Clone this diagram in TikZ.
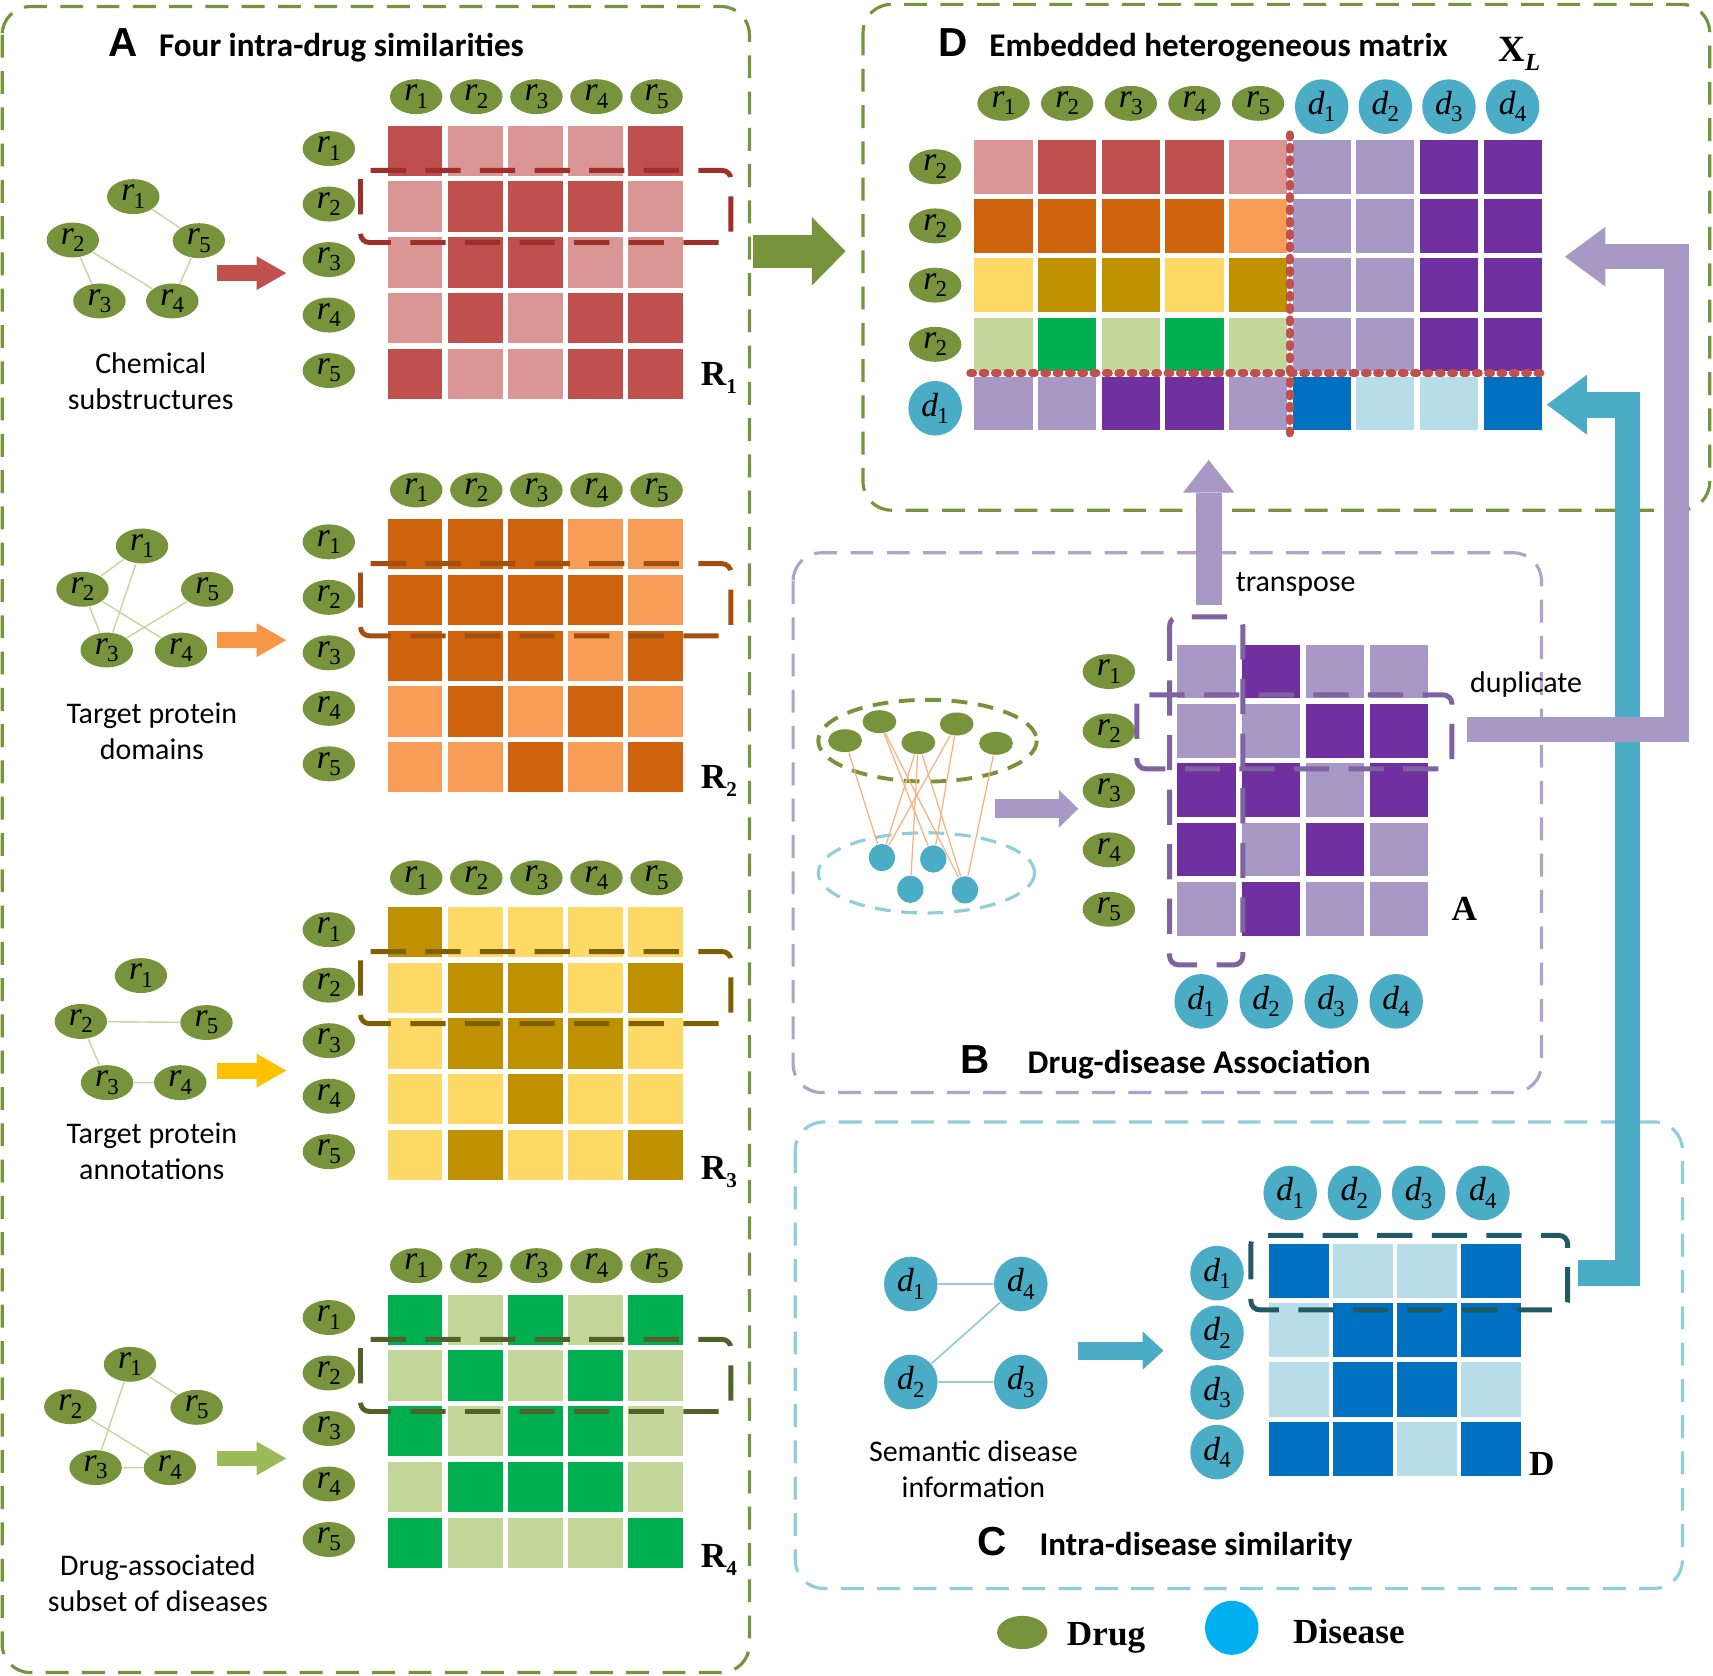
\documentclass[tikz,border=0pt]{standalone}
\usepackage{fontspec}
\setmainfont{Carlito}
\newfontfamily\tnr{Liberation Serif}
\newfontfamily\arl{Liberation Sans}
\usetikzlibrary{arrows.meta,positioning,shapes.geometric}

\definecolor{drugc}{HTML}{77933C}
\definecolor{disc}{HTML}{4BACC6}
\definecolor{legdis}{HTML}{00B0F0}
\definecolor{panelA}{HTML}{77933C}
\definecolor{panelB}{HTML}{B3A2C7}
\definecolor{panelC}{HTML}{92CDDC}
\definecolor{redD}{HTML}{C0504D}
\definecolor{redL}{HTML}{DA9694}
\definecolor{orgD}{HTML}{CE620D}
\definecolor{orgL}{HTML}{F79D58}
\definecolor{yelD}{HTML}{BF9000}
\definecolor{yelL}{HTML}{FFD966}
\definecolor{grnD}{HTML}{00B050}
\definecolor{grnL}{HTML}{C4D79B}
\definecolor{purD}{HTML}{7030A0}
\definecolor{purL}{HTML}{A898C5}
\definecolor{bluD}{HTML}{0070C0}
\definecolor{bluL}{HTML}{B7DEE8}
\definecolor{redB}{HTML}{9E2F2B}
\definecolor{orgB}{HTML}{A34F0E}
\definecolor{yelB}{HTML}{7F6000}
\definecolor{grnB}{HTML}{4F6228}
\definecolor{purB}{HTML}{7E62A1}
\definecolor{bluB}{HTML}{215967}
\definecolor{redArr}{HTML}{C0504D}
\definecolor{orgArr}{HTML}{F79646}
\definecolor{yelArr}{HTML}{FFC000}
\definecolor{grnArr}{HTML}{9BBB59}
\definecolor{purArr}{HTML}{A898C5}
\definecolor{bluArr}{HTML}{4BACC6}
\definecolor{bigArr}{HTML}{77933C}
\definecolor{edgeG}{HTML}{C3D69B}
\definecolor{edgeC}{HTML}{93CDDD}
\definecolor{edgeO}{HTML}{F6B27E}

\newdimen\px \px=0.3101pt
\newcommand{\lbl}[2]{{\tnr\itshape #1}\kern-0.2pt\raisebox{-0.45ex}{\tnr\fontsize{6.5}{6.5}\selectfont #2}}
\newcommand{\mlbl}[2]{{\tnr\bfseries #1}\raisebox{-0.5ex}{\tnr\bfseries\fontsize{6}{6}\selectfont #2}}

\tikzset{
  drug/.style={ellipse, fill=drugc, minimum width=48*\px, minimum height=32*\px, inner sep=0pt, font=\fontsize{9.5}{9.5}\selectfont},
  dis/.style={ellipse, fill=disc, minimum width=49*\px, minimum height=50*\px, inner sep=0pt, font=\fontsize{9.5}{9.5}\selectfont},
  gsm/.style={ellipse, fill=drugc, minimum width=31*\px, minimum height=21*\px, inner sep=0pt},
  bsm/.style={ellipse, fill=disc, minimum width=24*\px, minimum height=25*\px, inner sep=0pt},
  panel/.style={rounded corners=8pt, line width=0.9pt, dash pattern=on 6.5pt off 3.8pt},
  hbox/.style={rounded corners=2.5pt, line width=1.4pt, dash pattern=on 10pt off 5.5pt},
  dotline/.style={draw=redD, line width=2.2pt, line cap=round, dash pattern=on 0.9pt off 2.6pt},
  gedge/.style={draw=edgeG, line width=0.4pt},
  ttl/.style={anchor=base west, inner sep=0pt, font=\bfseries\fontsize{9.4}{11}\selectfont},
  ltr/.style={anchor=base, inner sep=0pt, font=\arl\bfseries\fontsize{11.5}{11.5}\selectfont},
  capt/.style={align=center, font=\fontsize{8.5}{10.2}\selectfont},
  txt/.style={anchor=base west, inner sep=0pt, font=\fontsize{8.5}{10.2}\selectfont},
  mlab/.style={anchor=base west, inner sep=0pt, font=\tnr\bfseries\fontsize{10}{10}\selectfont},
  blk/.style n args={4}{draw=#1, line width=#2, -{Triangle[length=#3, width=#4, line width=0pt]}},
}

\begin{document}
\begin{tikzpicture}[x=0.3101pt, y=-0.3101pt]
\useasboundingbox (0,0) rectangle (1568,1534);

\draw[panel, panelA] (2,6) rectangle (686,1531);
\draw[panel, panelA] (790,4) rectangle (1565,467);
\draw[panel, panelB] (726,506) rectangle (1411,1000);
\draw[panel, panelC] (728,1027) rectangle (1540,1454);

% A: four drug similarities
\node[ltr] (ltA) at (113,52) {A};
\node[ttl] (ttA) at (145,52) {Four intra-drug similarities};

\foreach \k/\oy/\ay/\ry/\dk/\lt/\ac/\bx/\pat in {
  1/0/250/353/redD/redL/redArr/redB/{{1,0,0,0,1},{0,1,1,1,0},{0,1,1,0,0},{0,1,0,1,1},{1,0,0,1,1}},
  2/360/586/722/orgD/orgL/orgArr/orgB/{{1,1,1,0,0},{1,1,1,1,0},{1,1,1,0,1},{0,1,0,1,0},{0,0,1,0,1}},
  3/715/980/1080/yelD/yelL/yelArr/yelB/{{1,0,0,0,0},{0,1,1,0,1},{0,1,1,1,0},{0,0,1,0,0},{0,1,0,0,1}},
  4/1070/1335/1435/grnD/grnL/grnArr/grnB/{{1,0,1,0,1},{0,1,0,1,0},{1,0,1,1,0},{0,1,1,1,0},{1,0,0,0,1}}}{
  \colorlet{cell0}{\lt}
  \colorlet{cell1}{\dk}
  \foreach \row [count=\i] in \pat
    \foreach \v [count=\j] in \row
      \fill[cell\v] ({355+55*(\j-1)},{115+\oy+51.1*(\i-1)}) rectangle ++(50,46);
  \foreach \j in {1,...,5}
    \node[drug] (a\k c\j) at ({381+55*(\j-1)},{88.5+\oy}) {\lbl{r}{\j}};
  \foreach \i in {1,...,5}
    \node[drug] (a\k r\i) at (301,{136+\oy+50.8*(\i-1)}) {\lbl{r}{\i}};
  \draw[hbox, \bx] (330,{156+\oy}) rectangle (669,{222+\oy});
  \node[mlab] (a\k m) at (641,\ry) {\mlbl{R}{\k}};
  \coordinate (a\k s) at (199,\ay);
  \coordinate (a\k t) at (262,\ay);
  \draw[blk={\ac}{4.5pt}{8.4pt}{9.6pt}] (a\k s) -- (a\k t);
}

\node[drug] (g1r1) at (122,180) {\lbl{r}{1}};
\node[drug] (g1r2) at (66.6,219.7) {\lbl{r}{2}};
\node[drug] (g1r5) at (182,220.3) {\lbl{r}{5}};
\node[drug] (g1r3) at (91,275.5) {\lbl{r}{3}};
\node[drug] (g1r4) at (157.7,275.5) {\lbl{r}{4}};
\draw[gedge] (g1r1) -- (g1r5) (g1r2) -- (g1r3) (g1r2) -- (g1r4) (g1r5) -- (g1r4);
\node[capt] (cap1) at (138,349) {Chemical\\substructures};

\node[drug] (g2r1) at (130,499.8) {\lbl{r}{1}};
\node[drug] (g2r2) at (75.5,539.4) {\lbl{r}{2}};
\node[drug] (g2r5) at (189.7,539.4) {\lbl{r}{5}};
\node[drug] (g2r3) at (97.7,595) {\lbl{r}{3}};
\node[drug] (g2r4) at (165.7,595) {\lbl{r}{4}};
\draw[gedge] (g2r1) -- (g2r2) (g2r1) -- (g2r3) (g2r2) -- (g2r3) (g2r2) -- (g2r4) (g2r5) -- (g2r3);
\node[capt] (cap2) at (139,669) {Target protein\\domains};

\node[drug] (g3r1) at (129,893) {\lbl{r}{1}};
\node[drug] (g3r2) at (74,935) {\lbl{r}{2}};
\node[drug] (g3r5) at (189,936) {\lbl{r}{5}};
\node[drug] (g3r3) at (98,991) {\lbl{r}{3}};
\node[drug] (g3r4) at (165,991) {\lbl{r}{4}};
\draw[gedge] (g3r2) -- (g3r5) (g3r2) -- (g3r3) (g3r3) -- (g3r4);
\node[capt] (cap3) at (139,1054) {Target protein\\annotations};

\node[drug] (g4r1) at (119,1248.8) {\lbl{r}{1}};
\node[drug] (g4r2) at (64.4,1287.6) {\lbl{r}{2}};
\node[drug] (g4r5) at (180,1288.2) {\lbl{r}{5}};
\node[drug] (g4r3) at (87.5,1343.4) {\lbl{r}{3}};
\node[drug] (g4r4) at (155.5,1343.4) {\lbl{r}{4}};
\draw[gedge] (g4r1) -- (g4r5) (g4r1) -- (g4r3) (g4r2) -- (g4r4) (g4r3) -- (g4r4);
\node[capt] (cap4) at (144.5,1449) {Drug-associated\\subset of diseases};

\coordinate (aout) at (689,230);
\coordinate (din) at (774,230);
\draw[blk={bigArr}{9.3pt}{9.6pt}{19.5pt}] (aout) -- (din);

% D: embedded matrix
\node[ltr] (ltD) at (872,52) {D};
\node[ttl] (ttD) at (905,52) {Embedded heterogeneous matrix};
\node[anchor=base west, inner sep=0pt] (xl) at (1371,56.5) {{\tnr\bfseries\fontsize{10.5}{10.5}\selectfont X}\raisebox{-0.5ex}{\tnr\bfseries\itshape\fontsize{7}{7}\selectfont L}};

\foreach \row [count=\i] in {{redL,redD,redD,redD,redL,purL,purL,purD,purD},
  {orgD,orgD,orgD,orgD,orgL,purL,purL,purD,purD},
  {yelL,yelD,yelD,yelL,yelD,purL,purL,purD,purD},
  {grnL,grnD,grnL,grnD,grnL,purL,purL,purD,purD},
  {purL,purL,purD,purD,purL,bluD,bluL,bluL,bluD}}
  \foreach \c [count=\j] in \row
    \fill[\c] ({892+58.25*(\j-1)},{128.1+54.2*(\i-1)}) rectangle ++(53.2,49.1);
\foreach \j in {1,...,5}
  \node[drug] (xc\j) at ({918.6+58.25*(\j-1)},94.6) {\lbl{r}{\j}};
\foreach \j in {1,...,4}
  \node[dis] (xd\j) at ({1209.8+58.25*(\j-1)},97.6) {\lbl{d}{\j}};
\foreach \i in {1,...,4}
  \node[drug] (xr\i) at (856,{152.6+54.2*(\i-1)}) {\lbl{r}{2}};
\node[dis] (xr5) at (856,373.7) {\lbl{d}{1}};
\draw[dotline] (1180.5,123) -- (1180.5,398);
\draw[dotline] (888,341.7) -- (1413,341.7);

% B: drug-disease association
\node[ltr] (ltB) at (893,983) {B};
\node[ttl] (ttB) at (940,983) {Drug-disease Association};

\draw[drugc, line width=1.1pt, dash pattern=on 4.5pt off 3pt] (849,678) ellipse [x radius=100, y radius=37.4];
\draw[panelC, line width=0.9pt, dash pattern=on 4.5pt off 3pt] (848,799) ellipse [x radius=99, y radius=36.7];
\node[gsm] (bg1) at (773.5,678) {};
\node[gsm] (bg2) at (805,660.6) {};
\node[gsm] (bg3) at (840.6,679.8) {};
\node[gsm] (bg4) at (875.7,662.7) {};
\node[gsm] (bg5) at (911.7,680.4) {};
\node[bsm] (bd1) at (807.3,785) {};
\node[bsm] (bd2) at (854.3,786.3) {};
\node[bsm] (bd3) at (833.3,814) {};
\node[bsm] (bd4) at (883.3,814.6) {};
\foreach \s/\t in {1/1,2/2,2/4,3/1,3/3,3/4,4/1,4/2,5/4}
  \draw[edgeO, line width=0.35pt] (bg\s) -- (bd\t);

\coordinate (bs) at (911,740.3);
\coordinate (bt) at (987,740.3);
\draw[blk={purArr}{5.4pt}{5.5pt}{10.7pt}] (bs) -- (bt);

\foreach \row [count=\i] in {{0,1,0,0},{0,0,1,1},{1,1,0,1},{1,0,1,0},{0,1,0,0}}
  \foreach \v [count=\j] in \row {
    \ifnum\v=1 \def\cc{purD}\else\def\cc{purL}\fi
    \fill[\cc] ({1077.7+58.8*(\j-1)},{590.2+54.3*(\i-1)}) rectangle ++(53.4,49);
  }
\foreach \i in {1,...,5}
  \node[drug] (br\i) at (1015,{614.7+54.4*(\i-1)}) {\lbl{r}{\i}};
\foreach \j in {1,...,4}
  \node[dis] (bc\j) at ({1099.5+59.5*(\j-1)},916.6) {\lbl{d}{\j}};
\draw[hbox, purB] (1040.7,636) rectangle (1329,703.8);
\draw[hbox, purB] (1070.6,564.7) rectangle (1137.6,883.2);
\node[mlab] (bm) at (1328,843) {A};

\coordinate (trs) at (1106.4,553.8);
\coordinate (trt) at (1106.4,421);
\draw[blk={purArr}{7.4pt}{9.3pt}{14.6pt}] (trs) -- (trt);
\node[txt] (trl) at (1130.5,541.6) {transpose};

% C: disease similarity
\node[ltr] (ltC) at (908,1424) {C};
\node[ttl] (ttC) at (951,1424) {Intra-disease similarity};

\node[dis] (cd1) at (833.7,1175.3) {\lbl{d}{1}};
\node[dis] (cd4) at (934.4,1175.3) {\lbl{d}{4}};
\node[dis] (cd2) at (833.7,1265) {\lbl{d}{2}};
\node[dis] (cd3) at (934.4,1265) {\lbl{d}{3}};
\draw[edgeC, line width=0.5pt] (cd1) -- (cd4) (cd4) -- (cd2) (cd2) -- (cd3);
\node[capt] (cap5) at (891,1345) {Semantic disease\\information};

\coordinate (cs) at (987,1236.3);
\coordinate (ct) at (1065,1236.3);
\draw[blk={bluArr}{5.1pt}{5.9pt}{10.8pt}] (cs) -- (ct);

\foreach \row [count=\i] in {{1,0,0,1},{0,1,1,1},{0,1,1,0},{1,1,0,1}}
  \foreach \v [count=\j] in \row {
    \ifnum\v=1 \def\cc{bluD}\else\def\cc{bluL}\fi
    \fill[\cc] ({1161.8+58.6*(\j-1)},{1138.7+54.2*(\i-1)}) rectangle ++(54.4,49.5);
  }
\foreach \j in {1,...,4}
  \node[dis] (cc\j) at ({1181+58.8*(\j-1)},1092) {\lbl{d}{\j}};
\foreach \i in {1,...,4}
  \node[dis] (cr\i) at (1114,{1165.4+54.6*(\i-1)}) {\lbl{d}{\i}};
\draw[hbox, bluB] (1145,1130.8) rectangle (1435,1199);
\node[mlab] (cm) at (1399,1351) {D};

% feedback arrows into D
\coordinate (cup) at (1444,1165);
\coordinate (cin) at (1416,370.4);
\draw[blk={bluArr}{7.35pt}{11.35pt}{17pt}] (cup) -- (1489.7,1165) -- (1489.7,370.4) -- (cin);
\coordinate (dup) at (1343,667.5);
\coordinate (dupin) at (1432.5,235);
\draw[blk={purArr}{7.1pt}{11.5pt}{17pt}] (dup) -- (1535,667.5) -- (1535,235) -- (dupin);
\node[txt] (dupl) at (1345,633.7) {duplicate};

% legend
\node[ellipse, fill=drugc, minimum width=46*\px, minimum height=30*\px] (legdrug) at (935.7,1494.3) {};
\node[mlab] (legdrugt) at (976,1506) {Drug};
\node[ellipse, fill=legdis, minimum width=49*\px, minimum height=49.5*\px] (legdis) at (1127.5,1490) {};
\node[mlab] (legdist) at (1183,1504) {Disease};
\end{tikzpicture}
\end{document}
